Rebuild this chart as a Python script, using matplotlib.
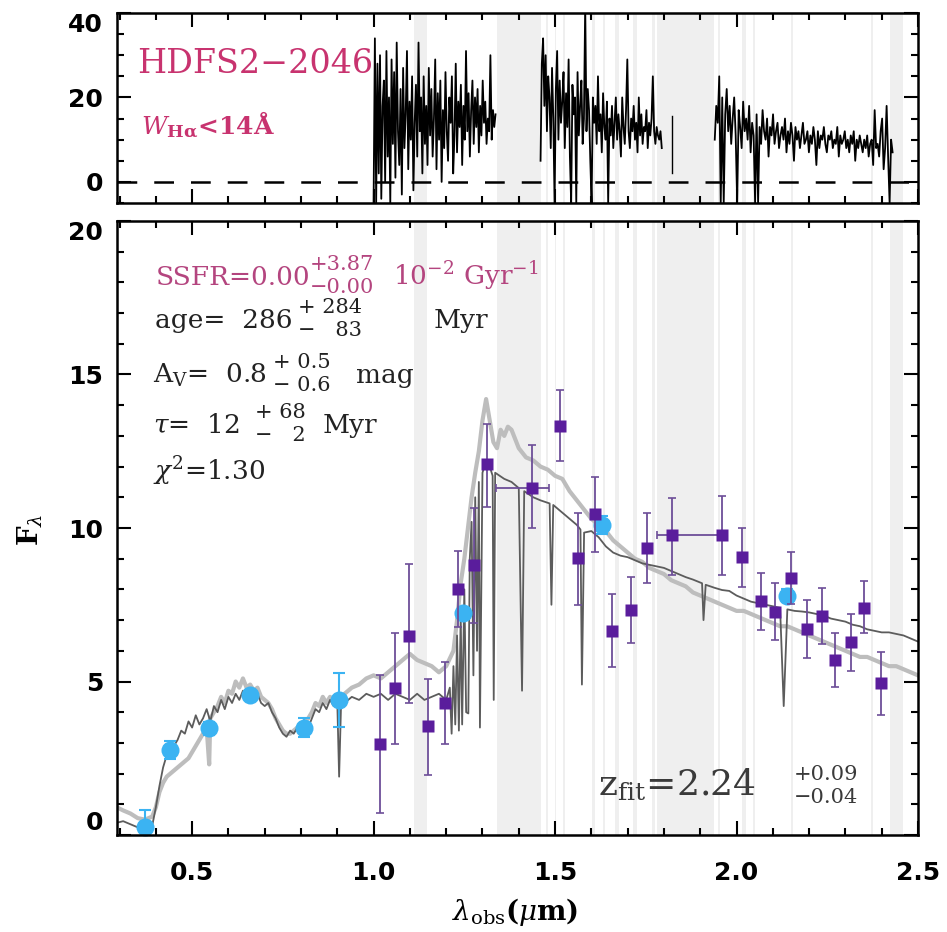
import numpy as np
import matplotlib
matplotlib.use("Agg")
import matplotlib.pyplot as plt
from matplotlib.ticker import MultipleLocator, FixedLocator

plt.rcParams['mathtext.fontset'] = 'dejavuserif'
plt.rcParams['font.family'] = ['DejaVu Sans']

# ---------------- data ----------------
# photometric broad-band points (blue circles)
bb_x = [0.371, 0.440, 0.546, 0.659, 0.807, 0.904, 1.247, 1.629, 2.139]
bb_y = [0.27, 2.77, 3.47, 4.56, 3.50, 4.40, 7.22, 10.10, 7.80]
bb_err = [0.55, 0.30, 0.20, 0.15, 0.30, 0.89, 0.20, 0.30, 0.20]

# medium-band points (purple squares)
mb_x = [1.018, 1.060, 1.098, 1.150, 1.196, 1.233, 1.276, 1.313, 1.437, 1.514,
        1.562, 1.611, 1.657, 1.709, 1.753, 1.822, 1.960, 2.015, 2.068, 2.107,
        2.150, 2.194, 2.236, 2.272, 2.315, 2.352, 2.399]
mb_y = [2.96, 4.78, 6.49, 3.55, 4.31, 8.00, 8.78, 12.08, 11.31, 13.33,
        9.01, 10.45, 6.66, 7.33, 9.34, 9.77, 9.77, 9.04, 7.62, 7.27,
        8.38, 6.70, 7.14, 5.70, 6.28, 7.38, 4.94]
mb_lo = [0.72, 2.96, 4.30, 1.95, 2.96, 6.79, 6.90, 10.70, 10.00, 12.18,
         7.49, 9.23, 5.46, 6.24, 8.22, 8.47, 8.47, 8.07, 6.68, 6.35,
         7.52, 5.78, 6.22, 4.81, 5.35, 6.59, 3.91]
mb_hi = [5.20, 6.59, 8.83, 5.08, 5.65, 9.26, 10.64, 13.40, 12.70, 14.50,
         10.50, 11.65, 7.85, 8.41, 10.48, 10.97, 11.04, 9.99, 8.54, 8.22,
         9.23, 7.65, 8.03, 6.57, 7.20, 8.28, 5.95]
mb_xlo = [0.010, 0.010, 0.010, 0.012, 0.010, 0.010, 0.010, 0.010, 0.100, 0.012,
          0.010, 0.010, 0.010, 0.010, 0.010, 0.040, 0.010, 0.010, 0.010, 0.010,
          0.010, 0.010, 0.010, 0.010, 0.010, 0.010, 0.010]
mb_xhi = [0.010, 0.010, 0.010, 0.012, 0.010, 0.010, 0.010, 0.010, 0.045, 0.012,
          0.010, 0.010, 0.010, 0.010, 0.010, 0.140, 0.010, 0.010, 0.010, 0.010,
          0.010, 0.010, 0.010, 0.010, 0.010, 0.010, 0.010]

# best-fit model (dark grey)
dark_x = [0.293, 0.31, 0.33, 0.35, 0.37, 0.39, 0.40, 0.41, 0.42, 0.43, 0.44, 0.45,
          0.46, 0.47, 0.48, 0.49, 0.50, 0.51, 0.52, 0.53, 0.54, 0.55, 0.56, 0.57,
          0.58, 0.59, 0.60, 0.61, 0.62, 0.63, 0.64, 0.65, 0.66, 0.67, 0.68, 0.69,
          0.70, 0.71, 0.72, 0.73, 0.74, 0.75, 0.76, 0.77, 0.78, 0.79, 0.80, 0.81,
          0.82, 0.83, 0.84, 0.85, 0.86, 0.87, 0.88, 0.89, 0.90, 0.905, 0.91, 0.92,
          0.94, 0.96, 0.98, 1.00, 1.02, 1.04, 1.06, 1.08, 1.10, 1.12, 1.14, 1.16,
          1.18, 1.20, 1.21, 1.215, 1.22, 1.225, 1.23, 1.235, 1.24, 1.244, 1.25, 1.255,
          1.261, 1.265, 1.27, 1.275, 1.28, 1.285, 1.29, 1.293, 1.30, 1.31, 1.32, 1.328,
          1.331, 1.335, 1.36, 1.38, 1.40, 1.409, 1.415, 1.44, 1.46, 1.485, 1.49, 1.495,
          1.52, 1.54, 1.56, 1.57, 1.574, 1.58, 1.60, 1.62, 1.64, 1.66, 1.68, 1.70,
          1.72, 1.74, 1.76, 1.78, 1.80, 1.82, 1.84, 1.86, 1.88, 1.905, 1.909, 1.915,
          1.94, 1.96, 1.98, 2.00, 2.02, 2.04, 2.06, 2.08, 2.10, 2.12, 2.13, 2.14,
          2.16, 2.18, 2.20, 2.22, 2.24, 2.26, 2.28, 2.30, 2.32, 2.34, 2.36, 2.38,
          2.40, 2.42, 2.44, 2.46, 2.48, 2.50]
dark_y = [0.40, 0.45, 0.35, 0.25, 0.20, 0.30, 0.90, 1.60, 2.20, 2.60, 2.80, 2.90,
          3.10, 3.40, 3.30, 3.70, 3.50, 3.90, 3.60, 3.80, 4.10, 3.70, 4.20, 4.00,
          4.40, 4.10, 4.50, 4.30, 4.60, 4.40, 4.70, 4.50, 4.60, 4.40, 4.60, 4.30,
          4.20, 4.30, 4.00, 3.80, 3.50, 3.30, 3.20, 3.40, 3.30, 3.50, 3.40, 3.60,
          3.50, 3.80, 4.10, 4.00, 4.30, 4.10, 4.40, 4.20, 4.30, 1.90, 4.10, 4.30,
          4.50, 4.40, 4.60, 4.50, 4.60, 4.40, 4.60, 4.50, 4.40, 4.60, 4.40, 4.50,
          4.60, 4.40, 4.80, 3.30, 5.50, 3.60, 6.50, 3.40, 7.20, 3.60, 8.00, 4.00,
          3.96, 9.00, 10.20, 5.20, 11.00, 6.00, 11.50, 3.50, 11.80, 12.20, 12.00, 11.70,
          4.40, 11.80, 11.60, 11.50, 11.30, 4.70, 11.20, 11.00, 10.90, 10.80, 7.50, 10.75,
          10.50, 10.30, 10.10, 9.95, 4.90, 9.85, 9.90, 9.70, 9.40, 9.20, 9.10, 9.05,
          8.95, 8.85, 8.80, 8.75, 8.70, 8.60, 8.50, 8.40, 8.32, 8.20, 7.00, 8.15,
          8.05, 7.98, 7.95, 7.80, 7.70, 7.60, 7.55, 7.50, 7.45, 7.40, 4.20, 7.35,
          7.30, 7.28, 7.25, 7.20, 7.15, 7.05, 7.00, 6.95, 6.85, 6.80, 6.70, 6.65,
          6.60, 6.60, 6.55, 6.50, 6.40, 6.30]

# alternative model (light grey)
light_x = [0.293, 0.31, 0.33, 0.35, 0.37, 0.39, 0.40, 0.41, 0.42, 0.43, 0.44, 0.45,
           0.46, 0.47, 0.48, 0.49, 0.50, 0.51, 0.52, 0.53, 0.54, 0.547, 0.55, 0.56,
           0.57, 0.58, 0.59, 0.60, 0.61, 0.62, 0.63, 0.64, 0.65, 0.66, 0.67, 0.68,
           0.69, 0.70, 0.71, 0.72, 0.73, 0.74, 0.75, 0.76, 0.77, 0.78, 0.79, 0.80,
           0.81, 0.82, 0.83, 0.84, 0.85, 0.86, 0.87, 0.88, 0.89, 0.90, 0.91, 0.92,
           0.94, 0.96, 0.98, 1.00, 1.02, 1.04, 1.06, 1.08, 1.10, 1.12, 1.14, 1.16,
           1.18, 1.20, 1.22, 1.23, 1.24, 1.25, 1.26, 1.27, 1.28, 1.29, 1.30, 1.31,
           1.32, 1.33, 1.34, 1.35, 1.36, 1.37, 1.38, 1.39, 1.40, 1.42, 1.44, 1.46,
           1.48, 1.50, 1.52, 1.54, 1.56, 1.58, 1.60, 1.62, 1.64, 1.66, 1.68, 1.70,
           1.72, 1.74, 1.76, 1.78, 1.80, 1.82, 1.84, 1.86, 1.88, 1.90, 1.92, 1.94,
           1.96, 1.98, 2.00, 2.02, 2.04, 2.06, 2.08, 2.10, 2.12, 2.14, 2.16, 2.18,
           2.20, 2.22, 2.24, 2.26, 2.28, 2.30, 2.32, 2.34, 2.36, 2.38, 2.40, 2.42,
           2.44, 2.46, 2.48, 2.50]
light_y = [0.90, 0.80, 0.70, 0.55, 0.50, 0.60, 0.90, 1.40, 1.70, 1.90, 2.00, 2.10,
           2.20, 2.30, 2.40, 2.50, 2.70, 2.90, 3.10, 3.30, 3.50, 2.30, 3.80, 4.00,
           4.20, 4.50, 4.30, 4.70, 4.60, 5.00, 4.80, 5.10, 4.80, 4.90, 4.70, 4.80,
           4.50, 4.40, 4.30, 4.10, 3.80, 3.60, 3.40, 3.30, 3.30, 3.40, 3.50, 3.60,
           3.70, 3.80, 4.00, 4.30, 4.20, 4.50, 4.30, 4.50, 4.40, 4.50, 4.40, 4.60,
           4.80, 4.90, 5.10, 5.20, 5.10, 5.30, 5.50, 5.70, 5.90, 5.70, 5.60, 5.50,
           5.30, 5.50, 6.00, 7.00, 8.20, 9.00, 10.00, 11.00, 11.80, 12.50, 13.50, 14.20,
           13.50, 12.80, 12.60, 13.20, 13.00, 13.30, 13.20, 12.90, 12.60, 12.30, 12.20, 12.00,
           11.90, 11.70, 11.60, 11.20, 10.90, 10.60, 10.30, 10.10, 9.90, 9.60, 9.40, 9.20,
           9.00, 8.90, 8.70, 8.60, 8.50, 8.30, 8.20, 8.10, 7.90, 7.80, 7.70, 7.60,
           7.50, 7.40, 7.30, 7.30, 7.20, 7.10, 7.00, 6.90, 6.80, 6.80, 6.70, 6.60,
           6.50, 6.40, 6.30, 6.20, 6.10, 6.00, 5.90, 5.80, 5.80, 5.70, 5.60, 5.50,
           5.50, 5.40, 5.30, 5.20]

# observed spectrum (top panel), three segments
seg1_range = (1.000, 1.336)
seg1_flux = [-5, 34, -5, 28, 2, 30, -4, 18, 24, 0, 31, 6, 20, -5, 29, 9, 26, 1, 33, 12,
             4, 22, -3, 27, 8, 16, 31, 3, 19, 10, 25, -2, 14, 23, 6, 33, 12, 20, 2, 25,
             9, 18, 4, 27, 11, 22, 6, 15, 29, 3, 21, 10, 24, 0, 17, 8, 26, 12, 5, 20,
             14, 25, 2, 11, 28, 7, 19, 13, 23, 4, 18, 10, 31, 12, 21, 6, 17, 24, 9, 20,
             13, 22, 7, 18, 11, 24, 14, 19, 9, 15, 12, 30, 10, 17, 13, 16]
seg2_range = (1.460, 1.794)
seg2_flux = [5, 28, 34, 18, 30, 12, 25, 20, 8, 27, 15, -5, 22, 31, 10, 24, 14, 19, 26, 8,
             21, 13, 29, 6, -5, 23, 16, 20, -5, 26, 11, 18, 24, 9, 15, 42, 12, 22, 17, 5,
             -5, 20, 14, 18, 9, 25, 12, 16, 7, 21, 13, 10, 19, -5, 15, 11, 18, 8, 14, 20,
             10, 16, 12, 6, 20, 13, 9, 17, 29, 12, 8, 15, 12, 18, 10, 14, 7, 20, 11, 16,
             9, 13, 12, 17, 8, 14, 11, 15, 25, 12, 9, 13, 11, 10, 12, 8]
spike_x = [1.822, 1.822]
spike_flux = [2.0, 15.5]
seg3_range = (1.940, 2.430)
seg3_flux = [10, 18, 14, 25, -5, 20, -5, 16, 22, 12, 18, 9, 15, 20, 11, -5, 17, 13, 8, 19,
             12, 15, 10, 18, 7, 14, 11, -5, 16, -5, 13, 9, 17, 12, 10, 15, 6, 13, 11, 16,
             9, 12, 14, 8, 11, 13, 10, 15, 7, 12, 9, 14, 11, 5, 13, 10, 12, 8, 11, 14,
             9, 10, 12, 7, 11, 9, 13, 10, 4, 12, 8, 11, 10, 13, 9, 7, 11, 10, 12, 8,
             10, 9, 13, 6, 11, 9, 10, 12, 8, 10, 7, 11, 9, 12, 5, 10, 8, 11, 9, 7,
             10, 8, 11, 6, 9, 10, 4, 17, 8, 9, 6, 12, 15, 3, 8, 18, 6, -5, 10, 7]

# masked (sky) wavelength bands
bands = [(1.112, 1.148), (1.340, 1.460), (1.476, 1.481), (1.499, 1.503), (1.522, 1.527),
         (1.603, 1.609), (1.631, 1.637), (1.666, 1.676), (1.716, 1.726), (1.768, 1.776),
         (1.781, 1.937), (1.948, 1.954), (2.014, 2.026), (2.044, 2.050), (2.150, 2.156),
         (2.370, 2.376), (2.424, 2.460)]

x_ticks = [0.5, 1.0, 1.5, 2.0, 2.5]
y_ticks_bottom = [0, 5, 10, 15, 20]
y_ticks_top = [0, 20, 40]

# ---------------- figure ----------------
W, H = 947, 932
fig = plt.figure(figsize=(W / 100, H / 100), dpi=100)
L, R = 117, 918
ax1 = fig.add_axes([L / W, 1 - 203 / H, (R - L) / W, (203 - 13) / H])
ax2 = fig.add_axes([L / W, 1 - 835 / H, (R - L) / W, (835 - 221) / H])

band_col = '#efefef'
for ax in (ax1, ax2):
    for (a, b) in bands:
        ax.axvspan(a, b, color=band_col, lw=0, zorder=0)

# top panel spectrum
for rng, flux in ((seg1_range, seg1_flux), (seg2_range, seg2_flux), (seg3_range, seg3_flux)):
    xs = np.linspace(rng[0], rng[1], len(flux))
    ax1.plot(xs, flux, color='black', lw=1.3, zorder=2)
ax1.plot(spike_x, spike_flux, color='black', lw=1.0, zorder=2)
ax1.axhline(0, color='black', lw=1.8, ls=(0, (7.9, 6.8)), zorder=3)

# bottom panel
ax2.plot(light_x, light_y, color='#bdbdbd', lw=3.0, zorder=2, solid_joinstyle='round')
ax2.plot(dark_x, dark_y, color='#5c5c5c', lw=1.3, zorder=3)

bb_col = '#3bb3f2'
ax2.errorbar(bb_x, bb_y, yerr=bb_err, fmt='none', ecolor=bb_col, elinewidth=1.5,
             capsize=4, capthick=1.5, zorder=4)
ax2.plot(bb_x, bb_y, 'o', color=bb_col, ms=13, mec='none', zorder=5, clip_on=False)

mb_x_a = np.array(mb_x)
mb_y_a = np.array(mb_y)
yerr = [mb_y_a - np.array(mb_lo), np.array(mb_hi) - mb_y_a]
xerr = [np.array(mb_xlo), np.array(mb_xhi)]
ax2.errorbar(mb_x, mb_y, yerr=yerr, xerr=xerr, fmt='none', ecolor='#6d4e98',
             elinewidth=1.3, capsize=3, capthick=1.2, zorder=6)
ax2.plot(mb_x, mb_y, 's', color='#5a1d9c', ms=8.5, mec='none', zorder=7)

# axes styling
for ax in (ax1, ax2):
    ax.set_xlim(0.293, 2.5)
    for s in ax.spines.values():
        s.set_linewidth(1.8)
        s.set_zorder(10)
    ax.xaxis.set_major_locator(FixedLocator(x_ticks))
    ax.xaxis.set_minor_locator(MultipleLocator(0.1))
    ax.tick_params(which='both', direction='in', top=True, right=True, width=1.5)
    ax.tick_params(which='major', length=10)
    ax.tick_params(which='minor', length=5)
    ax.tick_params(axis='y', labelsize=18, pad=10)
    ax.tick_params(axis='x', labelsize=18, pad=19)
    ax.set_facecolor('white')

ax1.set_ylim(-5, 40)
ax1.yaxis.set_major_locator(FixedLocator(y_ticks_top))
ax1.yaxis.set_minor_locator(MultipleLocator(5))
ax1.set_yticklabels([str(v) for v in y_ticks_top], fontweight='bold')
ax1.tick_params(axis='x', labelbottom=False)

ax2.set_ylim(0, 20)
ax2.yaxis.set_major_locator(FixedLocator(y_ticks_bottom))
ax2.yaxis.set_minor_locator(MultipleLocator(1))
ax2.set_yticklabels([str(v) for v in y_ticks_bottom], fontweight='bold')
ax2.set_xticklabels(['%.1f' % v for v in x_ticks], fontweight='bold')

# nudge end labels inward
ax2.get_yticklabels()[0].set_verticalalignment('bottom')
ax2.get_yticklabels()[-1].set_verticalalignment('top')
ax1.get_yticklabels()[-1].set_verticalalignment('top')

# texts
mag = '#c8336f'
serif = 'DejaVu Serif'
ax1.text(0.349, 25.7, 'HDFS2\u22122046', color=mag, fontsize=24, family=serif,
         va='baseline', ha='left')
ax1.text(0.358, 11.4, r'$\mathbf{\mathit{W}}_{\mathbf{H\alpha}}$<14Å', color=mag, fontsize=18,
         family=serif, fontweight='bold', va='baseline', ha='left')


def dx(px):
    return 0.5 + (px - 191.7) / 363.0


def dy(py):
    return (835.0 - py) / 30.7


def put(px, py, s, color='#222222', size=19):
    ax2.text(dx(px), dy(py), s, color=color, fontsize=size, family=serif,
             va='baseline', ha='left')


def stack(px, py, top, bot, color='#222222', size=15):
    put(px, py - 15, top, color, size)
    put(px, py + 8, bot, color, size)


ssfr_col = '#b4457f'
put(155, 285, 'SSFR=0.00', ssfr_col)
stack(309, 285, '+3.87', '\u22120.00', ssfr_col)
put(393, 285, r'10$^{-2}$ Gyr$^{-1}$', ssfr_col)

put(155, 328, 'age=  286')
stack(298, 328, '+ 284', '\u2212   83')
put(433, 328, 'Myr')

put(153, 383, r'A$_{\rm V}$=  0.8')
stack(273, 383, '+ 0.5', '\u2212 0.6')
put(356, 383, 'mag')

put(153, 433, r'$\tau$=  12')
stack(255, 433, '+ 68', '\u2212   2')
put(322, 433, 'Myr')

put(153, 480, r'$\chi^{2}$=1.30')

zcol = '#3a3a3a'
put(598, 795, r'z$_{\rm fit}$=2.24', zcol, 26)
stack(793, 795, '+0.09', '\u22120.04', zcol, 15)

fig.text(30 / W, 1 - 530 / H, r'F$_{\lambda}$', rotation=90, fontsize=20,
         family=serif, fontweight='bold', ha='center', va='center')
fig.text(515 / W, 1 - 912 / H, r'$\lambda_{\rm obs}$($\mu$m)', fontsize=20,
         family=serif, fontweight='bold', ha='center', va='center')

fig.savefig('out.png', dpi=100, facecolor='white')
